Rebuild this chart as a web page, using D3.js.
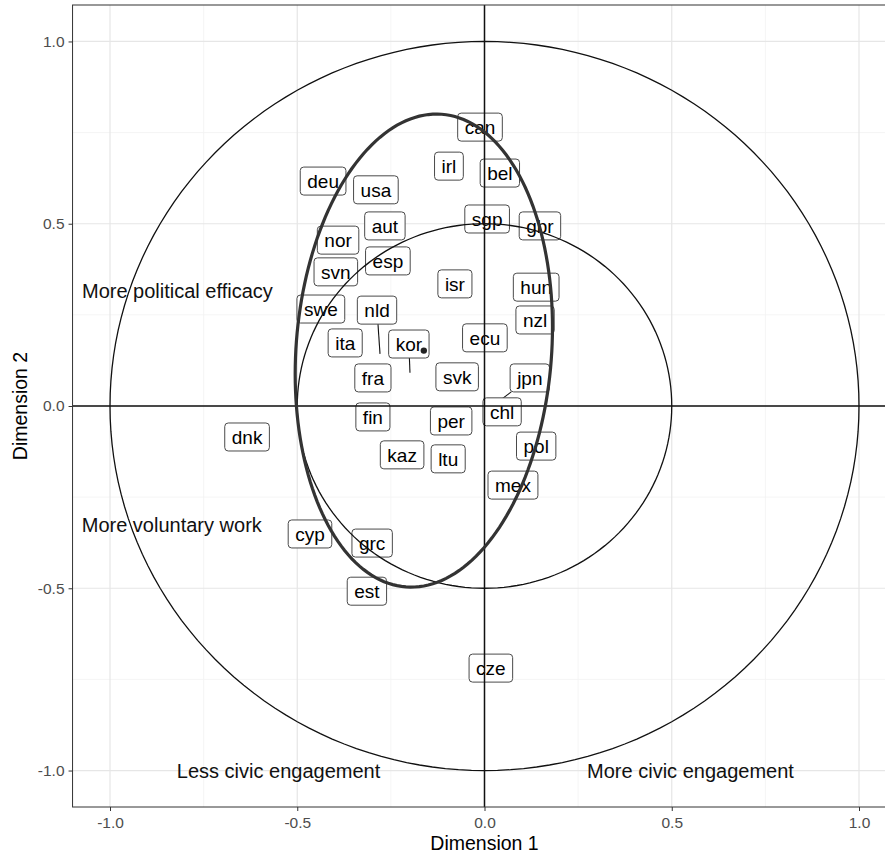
<!DOCTYPE html>
<html>
<head>
<meta charset="utf-8">
<script src="https://cdn.jsdelivr.net/npm/d3@7"></script>
<style>
  body { margin: 0; background: #fff; }
  text { font-family: "Liberation Sans", Arial, sans-serif; }
</style>
</head>
<body>
<div id="chart"></div>
<script>
// country labels and where their boxes sit (Dimension 1 / Dimension 2)
const countries = ["can", "irl", "bel", "deu", "usa", "aut", "sgp", "gbr", "nor", "esp", "svn", "isr", "hun",
  "swe", "nld", "nzl", "ita", "kor", "ecu", "fra", "svk", "jpn", "chl", "fin", "per", "dnk", "pol",
  "kaz", "ltu", "mex", "cyp", "grc", "est", "cze"];
const dim1 = [-0.012, -0.095, 0.041, -0.431, -0.290, -0.266, 0.007, 0.148, -0.391, -0.258, -0.397, -0.079, 0.138,
  -0.437, -0.287, 0.135, -0.372, -0.202, 0.001, -0.298, -0.073, 0.121, 0.047, -0.298, -0.089, -0.634, 0.138,
  -0.220, -0.097, 0.076, -0.466, -0.300, -0.314, 0.017];
const dim2 = [0.765, 0.658, 0.639, 0.617, 0.593, 0.494, 0.513, 0.494, 0.455, 0.398, 0.368, 0.335, 0.326,
  0.266, 0.263, 0.236, 0.173, 0.170, 0.187, 0.077, 0.080, 0.077, -0.016, -0.030, -0.041, -0.085, -0.110,
  -0.134, -0.145, -0.217, -0.351, -0.376, -0.508, -0.719];

// labels that were pushed away from their point, with the point itself
const moved = ["nld", "kor", "jpn"];
const movedX = [-0.279, -0.199, 0.028];
const movedY = [0.143, 0.091, 0.005];

// centre of the country cloud and its ellipse (covariance xx, xy, yy)
const centroid = [-0.162, 0.152];
const ellipseCov = [0.118, 0.022, 0.421];

const circleRadii = [0.5, 1];

const notes = ["More political efficacy", "More voluntary work", "Less civic engagement", "More civic engagement"];
const noteX = [-0.82, -0.835, -0.55, 0.55];
const noteY = [0.315, -0.325, -1.0, -1.0];

const majorTicks = [-1, -0.5, 0, 0.5, 1];
const minorTicks = [-0.75, -0.25, 0.25, 0.75];

const W = 885, H = 856;
const x = d3.scaleLinear().domain([-1.1, 1.1]).range([484.5 - 1.1 * 374.5, 484.5 + 1.1 * 374.5]);
const y = d3.scaleLinear().domain([-1.1, 1.1]).range([807, 5]);
const [x0, x1] = x.range();
const [y1, y0] = y.range();

const svg = d3.select("#chart").append("svg").attr("width", W).attr("height", H);

svg.append("clipPath").attr("id", "panel")
  .append("rect").attr("x", x0).attr("y", y0).attr("width", x1 - x0).attr("height", y1 - y0);

const plot = svg.append("g").attr("clip-path", "url(#panel)");

// grid
plot.selectAll(".minx").data(minorTicks).join("line")
  .attr("x1", d => x(d)).attr("x2", d => x(d)).attr("y1", y0).attr("y2", y1)
  .attr("stroke", "#f2f2f2").attr("stroke-width", 0.8);
plot.selectAll(".miny").data(minorTicks).join("line")
  .attr("y1", d => y(d)).attr("y2", d => y(d)).attr("x1", x0).attr("x2", x1)
  .attr("stroke", "#f2f2f2").attr("stroke-width", 0.8);
plot.selectAll(".majx").data(majorTicks).join("line")
  .attr("x1", d => x(d)).attr("x2", d => x(d)).attr("y1", y0).attr("y2", y1)
  .attr("stroke", "#e6e6e6").attr("stroke-width", 1.2);
plot.selectAll(".majy").data(majorTicks).join("line")
  .attr("y1", d => y(d)).attr("y2", d => y(d)).attr("x1", x0).attr("x2", x1)
  .attr("stroke", "#e6e6e6").attr("stroke-width", 1.2);

// label boxes
const labFont = 19, padX = 7, boxH = 28;
const labels = countries.map((c, i) => ({ name: c, cx: x(dim1[i]), cy: y(dim2[i]) }));

const tmp = svg.append("text").style("font-size", labFont + "px");
labels.forEach(d => { tmp.text(d.name); d.w = tmp.node().getComputedTextLength() + 2 * padX; });
tmp.remove();

// leader segments from the box edge to the point
moved.forEach((m, i) => {
  const lab = labels.find(d => d.name === m);
  const px = x(movedX[i]), py = y(movedY[i]);
  const dx = px - lab.cx, dy = py - lab.cy;
  const t = Math.min(Math.abs((lab.w / 2) / dx) || Infinity, Math.abs((boxH / 2) / dy) || Infinity);
  plot.append("line")
    .attr("x1", lab.cx + dx * t).attr("y1", lab.cy + dy * t)
    .attr("x2", px).attr("y2", py)
    .attr("stroke", "#111").attr("stroke-width", 1.1);
});

const lg = plot.selectAll("g.lab").data(labels).join("g").attr("class", "lab")
  .attr("transform", d => `translate(${d.cx},${d.cy})`);
lg.append("rect")
  .attr("x", d => -d.w / 2).attr("y", -boxH / 2)
  .attr("width", d => d.w).attr("height", boxH)
  .attr("rx", 3.5)
  .attr("fill", "#fff").attr("stroke", "#4a4a4a").attr("stroke-width", 1);
lg.append("text")
  .attr("text-anchor", "middle").attr("dy", "0.36em")
  .style("font-size", labFont + "px").attr("fill", "#000")
  .text(d => d.name);

// reference circles
const circ = d3.range(0, 361, 2).map(a => a * Math.PI / 180);
const line = d3.line().x(d => x(d[0])).y(d => y(d[1]));
circleRadii.forEach(r => {
  plot.append("path")
    .attr("d", line(circ.map(a => [r * Math.cos(a), r * Math.sin(a)])))
    .attr("fill", "none").attr("stroke", "#111").attr("stroke-width", 1.3);
});

// zero lines
plot.append("line").attr("x1", x(0)).attr("x2", x(0)).attr("y1", y0).attr("y2", y1)
  .attr("stroke", "#111").attr("stroke-width", 1.5);
plot.append("line").attr("y1", y(0)).attr("y2", y(0)).attr("x1", x0).attr("x2", x1)
  .attr("stroke", "#111").attr("stroke-width", 1.5);

// ellipse from the covariance (cholesky)
const l11 = Math.sqrt(ellipseCov[0]);
const l21 = ellipseCov[1] / l11;
const l22 = Math.sqrt(ellipseCov[2] - l21 * l21);
plot.append("path")
  .attr("d", line(circ.map(a => [
    centroid[0] + l11 * Math.cos(a),
    centroid[1] + l21 * Math.cos(a) + l22 * Math.sin(a)
  ])))
  .attr("fill", "none").attr("stroke", "#333").attr("stroke-width", 3.2);

plot.append("circle").attr("cx", x(centroid[0])).attr("cy", y(centroid[1])).attr("r", 3.2).attr("fill", "#222");

// quadrant notes
plot.selectAll("text.note").data(notes).join("text").attr("class", "note")
  .attr("x", (d, i) => x(noteX[i])).attr("y", (d, i) => y(noteY[i]))
  .attr("text-anchor", "middle").attr("dy", "0.36em")
  .style("font-size", "20px").attr("fill", "#111")
  .text(d => d);

// panel border
svg.append("rect").attr("x", x0).attr("y", y0).attr("width", x1 - x0).attr("height", y1 - y0)
  .attr("fill", "none").attr("stroke", "#333").attr("stroke-width", 1);

// axes
const fmt = d => d.toFixed(1);
const ax = svg.append("g").attr("transform", `translate(0,${y1})`)
  .call(d3.axisBottom(x).tickValues(majorTicks).tickFormat(fmt).tickSize(4).tickPadding(6));
const ay = svg.append("g").attr("transform", `translate(${x0},0)`)
  .call(d3.axisLeft(y).tickValues(majorTicks).tickFormat(fmt).tickSize(4).tickPadding(4));
[ax, ay].forEach(g => {
  g.select(".domain").remove();
  g.selectAll(".tick line").attr("stroke", "#333");
  g.selectAll(".tick text").attr("fill", "#4d4d4d").style("font-size", "15.5px")
    .style("font-family", "'Liberation Sans', Arial, sans-serif");
});

svg.append("text").attr("x", (x0 + x1) / 2).attr("y", 850)
  .attr("text-anchor", "middle").style("font-size", "19.5px").text("Dimension 1");
svg.append("text").attr("transform", `translate(27,${y(0)}) rotate(-90)`)
  .attr("text-anchor", "middle").style("font-size", "19.5px").text("Dimension 2");
</script>
</body>
</html>
